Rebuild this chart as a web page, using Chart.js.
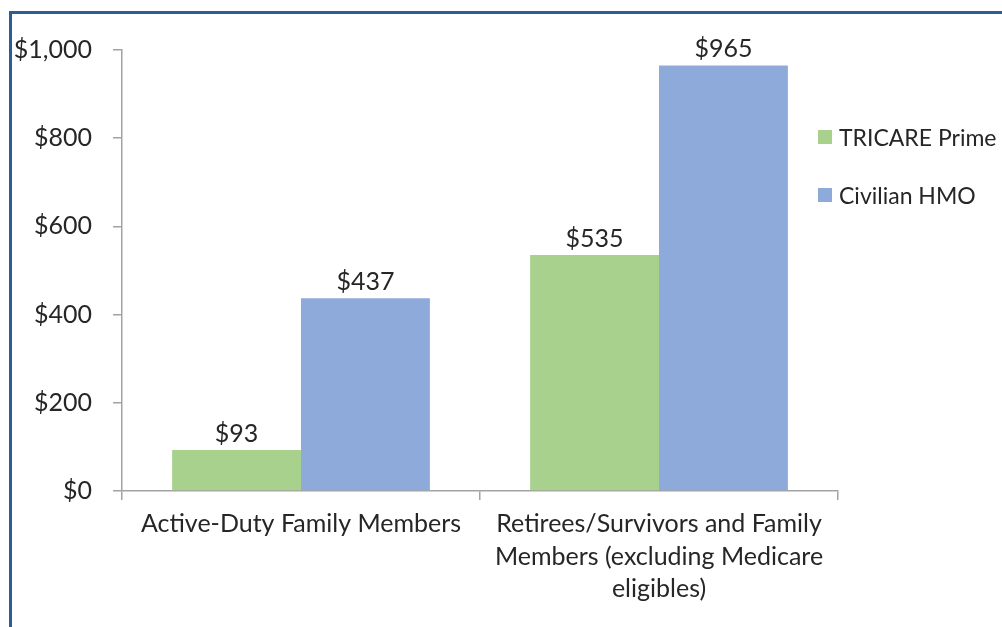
<!DOCTYPE html>
<html>
<head>
<meta charset="utf-8">
<script src="https://cdn.jsdelivr.net/npm/chart.js@4"></script>
<style>
  body { margin: 0; background: #fff; }
  #frame {
    position: absolute; left: 9px; top: 11px; width: 1100px; height: 700px;
    border-left: 3px solid #2b5e98; border-top: 3px solid #2b5e98;
  }
  #wrap { position: absolute; left: 0; top: 0; width: 1002px; height: 627px; overflow: hidden; }
  #legend { position: absolute; left: 818px; top: 121px; font-family: Lato, sans-serif; font-size: 23px; color: #262626; white-space: nowrap; }
  .item { display: flex; align-items: center; height: 32px; margin-bottom: 26px; }
  .swatch { width: 14px; height: 14px; margin-right: 7px; flex: none; }
</style>
</head>
<body>
<div id="frame"></div>
<div id="wrap">
  <canvas id="chart" width="1002" height="627"></canvas>
  <div id="legend"></div>
</div>
<script>
// Chart data
const categories = [
    'Active-Duty Family Members',
    ['Retirees/Survivors and Family', 'Members (excluding Medicare', 'eligibles)']
];
const seriesNames = ['TRICARE Prime', 'Civilian HMO'];
const tricarePrime = [93, 535];
const civilianHmo = [437, 965];
const yTicks = [0, 200, 400, 600, 800, 1000];

const COLORS = ['#a9d18e', '#8eaadb'];
const TEXT = '#262626';
const AXIS = '#a3a3a3';
const FONT = 'Lato, sans-serif';

const money = v => '$' + v.toLocaleString('en-US');

// Value labels on top of bars
const barLabels = {
    id: 'barLabels',
    afterDatasetsDraw(chart) {
        const ctx = chart.ctx;
        ctx.save();
        ctx.font = '25px ' + FONT;
        ctx.fillStyle = TEXT;
        ctx.textAlign = 'center';
        ctx.textBaseline = 'alphabetic';
        chart.data.datasets.forEach((ds, i) => {
            chart.getDatasetMeta(i).data.forEach((bar, j) => {
                ctx.fillText(money(ds.data[j]), bar.x, bar.y - 8);
            });
        });
        ctx.restore();
    }
};

const chart = new Chart(document.getElementById('chart'), {
    type: 'bar',
    data: {
        labels: categories,
        datasets: [
            { label: seriesNames[0], data: tricarePrime, backgroundColor: COLORS[0] },
            { label: seriesNames[1], data: civilianHmo, backgroundColor: COLORS[1] }
        ]
    },
    options: {
        responsive: false,
        animation: false,
        layout: { padding: { left: 0, top: 50, right: 164, bottom: 0 } },
        datasets: { bar: { categoryPercentage: 0.72, barPercentage: 1.0 } },
        plugins: { legend: { display: false }, tooltip: { enabled: false } },
        scales: {
            x: {
                grid: { drawOnChartArea: false, drawTicks: true, tickLength: 9, color: AXIS, lineWidth: 1.5 },
                border: { color: AXIS, width: 1.5 },
                ticks: { color: TEXT, font: { family: FONT, size: 25, lineHeight: 1.3 }, padding: 8, maxRotation: 0, autoSkip: false },
                afterFit: s => { s.height = 627 - 491; }
            },
            y: {
                min: 0,
                max: 1000,
                afterBuildTicks: s => { s.ticks = yTicks.map(v => ({ value: v })); },
                grid: { drawOnChartArea: false, drawTicks: true, tickLength: 9, color: AXIS, lineWidth: 1.5 },
                border: { color: AXIS, width: 1.5 },
                ticks: { color: TEXT, font: { family: FONT, size: 25 }, padding: 21, callback: v => money(v) },
                afterFit: s => { s.width = 122; }
            }
        }
    },
    plugins: [barLabels]
});

// Legend built from the datasets
const legend = document.getElementById('legend');
chart.data.datasets.forEach(ds => {
    const row = document.createElement('div');
    row.className = 'item';
    row.innerHTML = `<span class="swatch" style="background:${ds.backgroundColor}"></span>${ds.label}`;
    legend.appendChild(row);
});
</script>
</body>
</html>
